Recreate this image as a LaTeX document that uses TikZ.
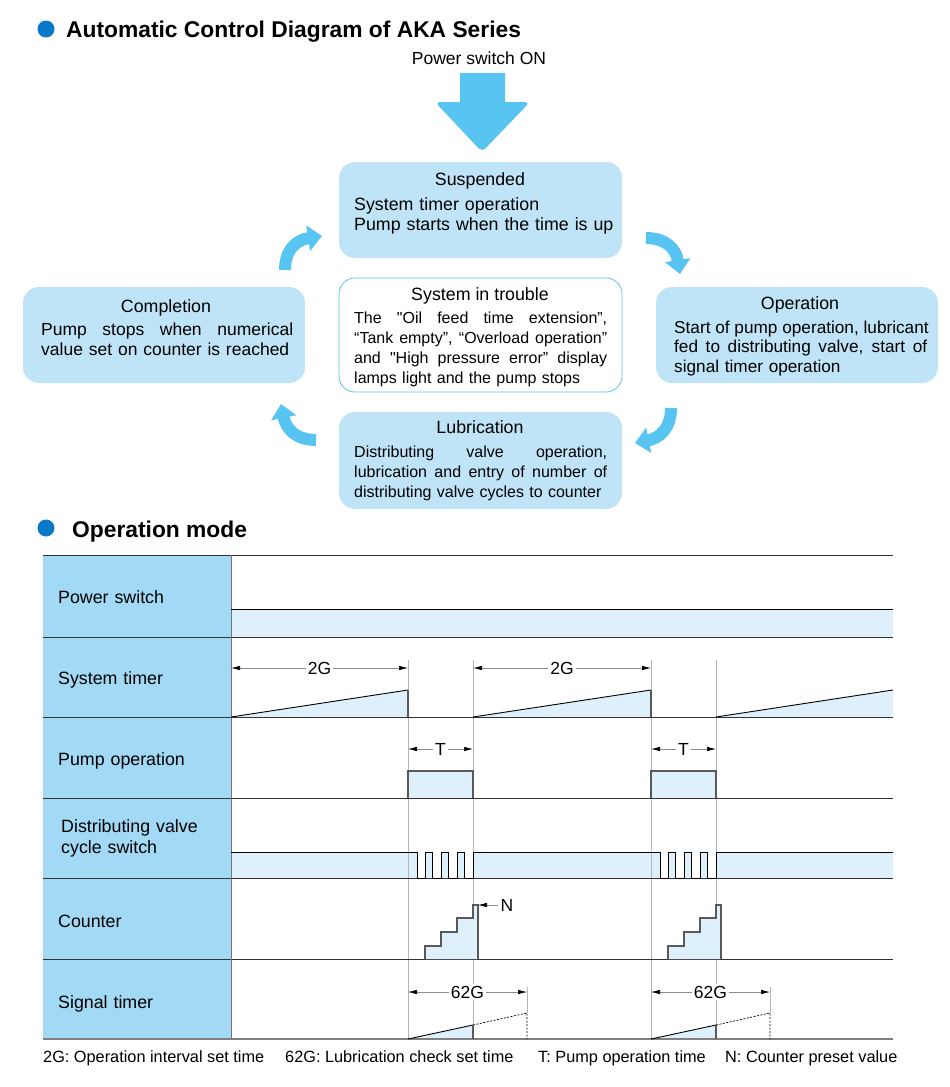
\documentclass[tikz,border=0pt]{standalone}
\usepackage{fontspec}
\setmainfont{Liberation Sans}
\usepackage{xcolor}
\usepackage{tikz}
\usetikzlibrary{arrows.meta, calc, positioning}
\definecolor{dotblue}{HTML}{0B79C9}
\definecolor{flowblue}{HTML}{58C4F1}
\definecolor{boxbg}{HTML}{BFE4F8}
\definecolor{headbg}{HTML}{A2D9F5}
\definecolor{sigbg}{HTML}{DDF0FB}
\definecolor{gridc}{HTML}{333333}
\definecolor{guidec}{HTML}{B5B5B5}
\newcommand{\fullline}[2]{\leavevmode\hbox to #1{\spaceskip=0.28em plus 1fil\relax #2}}
\tikzset{
  heading/.style={
    anchor=base west, inner sep=0pt,
    font=\fontsize{22.8}{26}\selectfont\bfseries
  },
  stage box/.style={
    fill=boxbg, rounded corners=16pt,
    minimum width=283pt, minimum height=96pt, inner sep=0pt
  },
  trouble box/.style={
    stage box, fill=white, draw=flowblue, line width=0.8pt,
    minimum height=114pt
  },
  box title/.style={anchor=base, inner sep=0pt, font=\fontsize{17.8}{20}\selectfont},
  box text/.style={
    anchor=base west, inner sep=0pt, align=left, text width=253pt,
    font=\fontsize{17.5}{20}\selectfont
  },
  small text/.style={font=\fontsize{16}{20}\selectfont},
  loop arrow/.style={flowblue, line width=12pt, -{Triangle[length=14pt, width=25pt]}},
  row label/.style={
    anchor=base west, inner sep=0pt, align=left, text width=165pt,
    font=\fontsize{17.8}{21}\selectfont
  },
  grid line/.style={gridc, line width=0.9pt},
  guide line/.style={guidec, line width=0.7pt},
  signal/.style={black, line width=0.9pt},
  pulse/.style={draw=black!65, line width=1.4pt, fill=sigbg},
  edge line/.style={black!65, line width=1.4pt},
  open end/.style={black, line width=0.7pt, dash pattern=on 2pt off 1.5pt},
  dim arrow/.style={
    black!45, line width=0.6pt,
    {Latex[length=9pt, width=4.5pt, color=black]}-{Latex[length=9pt, width=4.5pt, color=black]}
  },
  tip arrow/.style={black!45, line width=0.6pt, -{Latex[length=9pt, width=4.5pt, color=black]}},
  dim label/.style={fill=white, text=black, inner sep=2pt, font=\fontsize{17.5}{17.5}\selectfont},
  note/.style={anchor=base west, inner sep=0pt, font=\fontsize{16.3}{18}\selectfont}
}

\begin{document}
\begin{tikzpicture}[x=1pt, y=-1pt]
  \useasboundingbox (0,0) rectangle (950,1087);

  % Title
  \fill[dotblue] (46,29) circle (8.5pt);
  \node[heading] (title) at (66,37) {Automatic Control Diagram of AKA Series};

  % Power on arrow
  \node[anchor=base, inner sep=0pt, font=\fontsize{17.5}{20}\selectfont] (pwron) at (479,64) {Power switch ON};
  \fill[flowblue] (460,73) -- (505,73) -- (505,102) [rounded corners=5pt] -- (530,102) -- (482,152) -- (435,102) [sharp corners] -- (460,102) -- cycle;

  % Stages
  \node[stage box] (susp) at (480.5,210) {};
  \node[box title] (susptitle) at (480,185) {Suspended};
  \node[box text, text width=265pt, font=\fontsize{17.8}{20}\selectfont] (suspbody) at (354,210)
    {System timer operation\\Pump starts when the time is up};

  \node[stage box, minimum width=282pt] (compl) at (164,335) {};
  \node[box title] (compltitle) at (166,312) {Completion};
  \node[box text, text width=252pt] (complbody) at (41,335)
    {\fullline{252pt}{Pump stops when numerical}\\value set on counter is reached};

  \node[trouble box] (trbl) at (480.5,335) {};
  \node[box title] (trbltitle) at (480,300) {System in trouble};
  \node[box text, small text] (trblbody) at (354,323)
    {\fullline{253pt}{The \textquotedbl Oil feed time extension”,}\\\fullline{253pt}{“Tank empty”, “Overload operation”}\\\fullline{253pt}{and \textquotedbl High pressure error” display}\\lamps light and the pump stops};

  \node[stage box, minimum width=282pt] (oper) at (797,335) {};
  \node[box title] (opertitle) at (800,309) {Operation};
  \node[box text, font=\fontsize{17.2}{19.5}\selectfont] (operbody) at (674,333)
    {\fullline{253pt}{Start of pump operation, lubricant}\\\fullline{253pt}{fed to distributing valve, start of}\\signal timer operation};

  \node[stage box, minimum height=97pt] (lubr) at (480.5,460.5) {};
  \node[box title] (lubrtitle) at (480,433) {Lubrication};
  \node[box text, small text] (lubrbody) at (354,457)
    {\fullline{253pt}{Distributing valve operation,}\\\fullline{253pt}{lubrication and entry of number of}\\distributing valve cycles to counter};

  % Loop arrows
  \coordinate (loopa1) at (285,270);
  \coordinate (loopb1) at (322,236);
  \coordinate (loopa2) at (646,238);
  \coordinate (loopb2) at (680,274);
  \coordinate (loopa3) at (671,408);
  \coordinate (loopb3) at (635,443);
  \coordinate (loopa4) at (316,440);
  \coordinate (loopb4) at (281,404);
  \draw[loop arrow] (loopa1) .. controls (285,250) and (296,240) .. (loopb1);
  \draw[loop arrow] (loopa2) .. controls (666,238) and (676,249) .. (loopb2);
  \draw[loop arrow] (loopa3) .. controls (671,428) and (660,438) .. (loopb3);
  \draw[loop arrow] (loopa4) .. controls (296,440) and (286,429) .. (loopb4);

  % Operation mode
  \fill[dotblue] (46,528) circle (8.5pt);
  \node[heading] (modetitle) at (72,537) {Operation mode};

  % Chart fills
  \fill[headbg] (43,555) rectangle (231,1039);
  \fill[sigbg] (231,609) rectangle (893,637);
  \foreach \x/\w in {231/177,473/178,716/177}
    \fill[sigbg] (\x,717) -- (\x+\w,690) -- (\x+\w,717) -- cycle;
  \fill[sigbg] (231,878) -- (231,852)
    foreach \x in {408,651} { -- (\x+9,852) -- (\x+9,878)
      foreach \p in {17,33,49} { -- (\x+\p,878) -- (\x+\p,852) -- (\x+\p+7.5,852) -- (\x+\p+7.5,878) }
      -- (\x+65,878) -- (\x+65,852) }
    -- (893,852) -- (893,878) -- cycle;
  \foreach \x in {408,651}
    \fill[sigbg] (\x,1039) -- (\x+65,1025) -- (\x+65,1039) -- cycle;

  % Guides
  \foreach \x in {408,473,651,716}
    \draw[guide line] (\x,660) -- (\x,1039);
  \foreach \x in {408,651}
    \draw[guide line] (\x+119,987) -- (\x+119,1013);

  % Grid
  \foreach \y in {555,637,717,798,878,959}
    \draw[grid line] (43,\y) -- (893,\y);
  \draw[black!50, line width=1.4pt] (43,1039) -- (893,1039);
  \draw[black!55, line width=0.8pt] (231,555) -- (231,1039);

  % Row labels
  \node[row label] (rowpower) at (58,603) {Power switch};
  \node[row label] (rowsystem) at (58,684) {System timer};
  \node[row label] (rowpump) at (58,765) {Pump operation};
  \node[row label] (rowvalve) at (61,832) {Distributing valve\\cycle switch};
  \node[row label] (rowcount) at (58,927) {Counter};
  \node[row label] (rowsignal) at (58,1008) {Signal timer};

  % Power switch
  \draw[signal] (231,609) -- (893,609);

  % System timer
  \foreach \x/\w in {231/177,473/178,716/177}
    \draw[signal] (\x,717) -- (\x+\w,690);
  \foreach \x in {408,651}
    \draw[edge line] (\x,690) -- (\x,717);
  \foreach \a/\b [count=\i] in {231/408,473/651}
    \draw[dim arrow] (\a,668) -- node[dim label] (gtwo\i) {2G} (\b,668);

  % Pump operation
  \foreach \x [count=\i] in {408,651} {
    \filldraw[pulse] (\x,798) -- (\x,771) -- (\x+65,771) -- (\x+65,798);
    \draw[dim arrow] (\x,749) -- node[dim label] (tlen\i) {T} (\x+65,749);
  }

  % Distributing valve cycle switch
  \draw[signal] (231,852)
    foreach \x in {408,651} { -- (\x+9,852) -- (\x+9,878)
      foreach \p in {17,33,49} { -- (\x+\p,878) -- (\x+\p,852) -- (\x+\p+7.5,852) -- (\x+\p+7.5,878) }
      -- (\x+65,878) -- (\x+65,852) }
    -- (893,852);

  % Counter
  \foreach \x in {408,651}
    \filldraw[pulse] (\x+17,959) -- (\x+17,946) -- (\x+33,946) -- (\x+33,932) -- (\x+49,932)
      -- (\x+49,918) -- (\x+65,918) -- (\x+65,905) -- (\x+70,905) -- (\x+70,959);
  \node[dim label, fill=none] (nlabel) at (507,905) {N};
  \coordinate (ntop) at (478,905);
  \draw[tip arrow] (nlabel.west) -- (ntop);

  % Signal timer
  \foreach \x [count=\i] in {408,651} {
    \draw[signal] (\x,1039) -- (\x+65,1025);
    \draw[edge line] (\x+65,1025) -- (\x+65,1039);
    \draw[open end] (\x+65,1025) -- (\x+119,1013) -- (\x+119,1039);
    \draw[dim arrow] (\x,992) -- node[dim label] (lcheck\i) {62G} (\x+119,992);
  }

  % Notes
  \node[note] (note2g) at (43,1062) {2G: Operation interval set time};
  \node[note] (note62g) at (285,1062) {62G: Lubrication check set time};
  \node[note] (notet) at (538,1062) {T: Pump operation time};
  \node[note] (noten) at (725,1062) {N: Counter preset value};
\end{tikzpicture}
\end{document}
